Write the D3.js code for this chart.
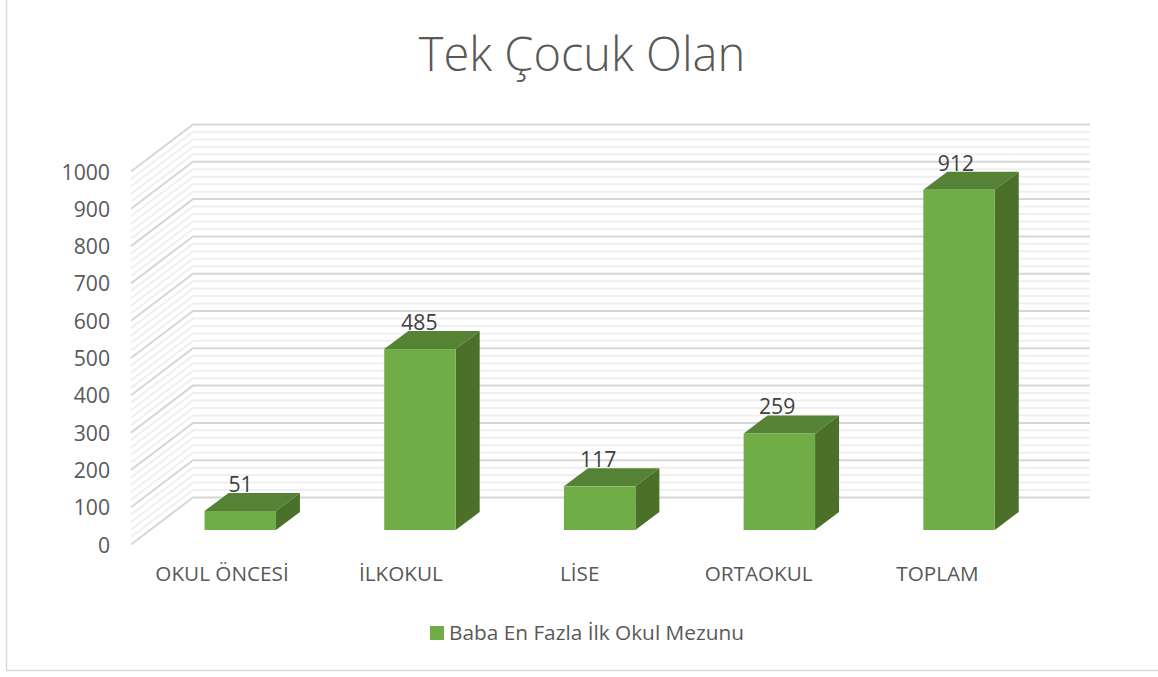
<!DOCTYPE html>
<html lang="tr">
<head>
<meta charset="utf-8">
<script src="https://cdn.jsdelivr.net/npm/d3@7/dist/d3.min.js"></script>
<style>
html,body{margin:0;padding:0;background:#fff;overflow:hidden}
svg{display:block}
text{font-family:"Open Sans","Noto Sans",sans-serif}
</style>
</head>
<body>
<svg id="chart" width="1158" height="677"></svg>
<script>
const categories = ["OKUL ÖNCESİ", "İLKOKUL", "LİSE", "ORTAOKUL", "TOPLAM"];
const values = [51, 485, 117, 259, 912];
const seriesName = "Baba En Fazla İlk Okul Mezunu";
const titleText = "Tek Çocuk Olan";
const majorTicks = d3.range(0, 1001, 100);
const minorTicks = d3.range(0, 1001, 20).filter(v => v % 100 !== 0);

const svg = d3.select("#chart");
const frontX = 131, backX = 193, rightX = 1090;
const wallDy = -47;
const y = d3.scaleLinear().domain([0, 1000]).range([544.5, 171.5]);
const x = d3.scaleBand().domain(categories).range([150.4, 1048.9]).paddingInner(0.6025).paddingOuter(0.30125);
const valueLabelX = d3.scalePoint().domain(categories).range([240.5, 956]);
const categoryLabelX = d3.scalePoint().domain(categories).range([222, 937.5]);
const barBase = 530, barDx = 24, barDy = -18;
const h = v => y(0) - y(v);

// frame
svg.append("path").attr("d", "M6.5,0V670.5H1158").attr("fill", "none").attr("stroke", "#d9d9d9").attr("stroke-width", 1.5);

// title
svg.append("text").attr("x", 582).attr("y", 71).attr("text-anchor", "middle")
  .attr("font-size", 47).attr("font-weight", 300).attr("fill", "#595959").text(titleText);

// gridlines
const grid = svg.append("g").attr("fill", "none");
const drawGrid = (ticks, color, w) => grid.selectAll(null).data(ticks).join("path")
  .attr("stroke", color).attr("stroke-width", w)
  .attr("d", v => `M${frontX},${y(v)}L${backX},${y(v) + wallDy}H${rightX}`);
drawGrid(minorTicks, "#efefef", 2);
drawGrid(majorTicks, "#d6d6d6", 2);

// y axis labels
svg.append("g").selectAll("text").data(majorTicks).join("text")
  .attr("x", 110).attr("y", v => y(v) + 8).attr("text-anchor", "end")
  .attr("font-size", 21.2).attr("fill", "#595959").text(d => d);

// bars
const bars = svg.append("g").selectAll("g").data(categories.map((c, i) => ({c, v: values[i]}))).join("g");
bars.append("path").attr("fill", "#568236")
  .attr("d", d => { const l = x(d.c), r = l + x.bandwidth(), t = barBase - h(d.v);
    return `M${l},${t}L${l + barDx},${t + barDy}H${r + barDx}L${r},${t}Z`; });
bars.append("path").attr("fill", "#4a7029")
  .attr("d", d => { const r = x(d.c) + x.bandwidth(), t = barBase - h(d.v);
    return `M${r},${t}L${r + barDx},${t + barDy}V${barBase + barDy}L${r},${barBase}Z`; });
bars.append("rect").attr("fill", "#70ad47")
  .attr("x", d => x(d.c)).attr("width", x.bandwidth())
  .attr("y", d => barBase - h(d.v)).attr("height", d => h(d.v));
bars.append("text").attr("text-anchor", "middle").attr("font-size", 21.2).attr("fill", "#404040")
  .attr("x", d => valueLabelX(d.c))
  .attr("y", d => barBase - h(d.v) - 19).text(d => d.v);

// category labels
svg.append("g").selectAll("text").data(categories).join("text")
  .attr("x", c => categoryLabelX(c)).attr("y", 581).attr("text-anchor", "middle")
  .attr("font-size", 20.7).attr("fill", "#595959").text(d => d);

// legend
svg.append("rect").attr("x", 430).attr("y", 626).attr("width", 14).attr("height", 14).attr("fill", "#70ad47");
svg.append("text").attr("x", 449).attr("y", 640).attr("font-size", 20.8).attr("fill", "#595959").text(seriesName);
</script>
</body>
</html>
